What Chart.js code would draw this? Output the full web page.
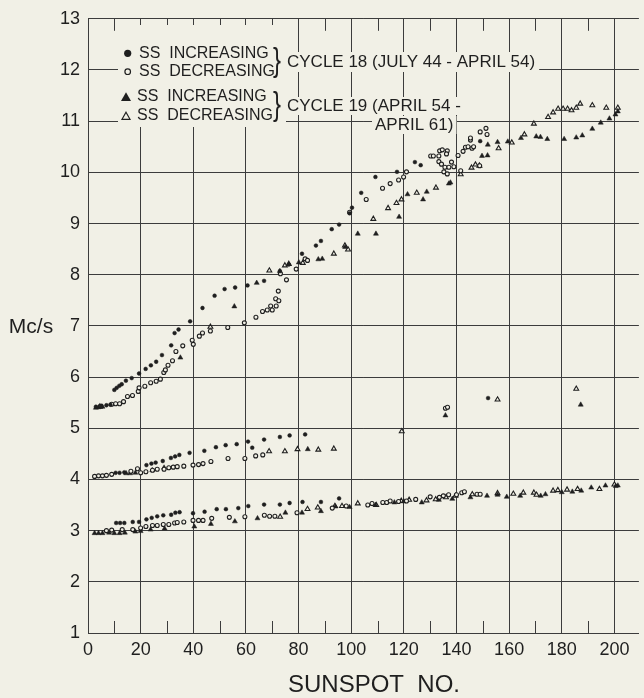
<!DOCTYPE html>
<html>
<head>
<meta charset="utf-8">
<script src="https://cdn.jsdelivr.net/npm/chart.js@4.4.1/dist/chart.umd.min.js"></script>
<style>
  html, body { margin: 0; padding: 0; background: #f1f0e6; }
  canvas { display: block; }
</style>
</head>
<body>
<canvas id="c" width="644" height="698"></canvas>
<script>
// ---------------- DATA ----------------
const xTickValues = [0, 20, 40, 60, 80, 100, 120, 140, 160, 180, 200];
const xMinorTicks = [10, 30, 50, 70, 90, 110, 130, 150, 170, 190];
const yTickValues = [1, 2, 3, 4, 5, 6, 7, 8, 9, 10, 11, 12, 13];

// Cycle 18 (July 44 - April 54), sunspot number increasing  (filled circles)
const cycle18Increasing = [
  [3,5.42],[5,5.44],[7,5.45],[8.5,5.46],
  [10,5.75],[10.9,5.79],[11.9,5.83],[12.8,5.86],[14.4,5.93],[16.6,5.98],[19.4,6.07],[21.9,6.16],
  [23.9,6.23],[25.9,6.3],[28.1,6.43],[31.6,6.62],[32.9,6.86],[34.4,6.93],[38.8,7.09],[43.5,7.35],
  [48.1,7.59],[51.9,7.72],[55.9,7.75],[60.6,7.79],[66.9,7.88],[72.9,8.07],[76.3,8.2],[81.3,8.41],
  [86.6,8.57],[88.5,8.66],[92.6,8.89],[95.4,8.98],[99.4,9.2],[100.3,9.31],[103.8,9.6],[109.2,9.91],
  [117.4,10.01],[124.2,10.2],[126.4,10.14],[149,10.61],
  [10.5,4.13],[12,4.13],[13.8,4.14],[22.2,4.28],[24.1,4.31],[25.7,4.33],[28.4,4.36],[31.5,4.42],
  [33.1,4.45],[34.7,4.48],[38.6,4.52],[44.2,4.56],[48.6,4.63],[52.3,4.67],[56.5,4.69],[60.8,4.74],
  [62.4,4.62],[66.9,4.78],[72.9,4.83],[76.6,4.86],[82.5,4.88],
  [10.7,3.15],[12.2,3.15],[13.8,3.15],[17,3.17],[19.4,3.17],[22.2,3.22],[24.2,3.25],[26.3,3.28],
  [28.6,3.3],[31.6,3.31],[33.2,3.35],[34.8,3.36],[39.9,3.34],[44.3,3.37],[48.9,3.42],[52.4,3.42],
  [57.1,3.44],[60.9,3.48],[66.9,3.51],[72.9,3.51],[76.6,3.54],[81.5,3.56],[88.5,3.56],[95.4,3.63],
  [152,5.59]
];

// Cycle 18, sunspot number decreasing  (open circles)
const cycle18Decreasing = [
  [9,5.47],[10.5,5.48],[12,5.48],[13.5,5.52],[15,5.62],[16.9,5.64],[19.1,5.72],[19.4,5.79],
  [21.6,5.82],[23.8,5.89],[25.9,5.92],[27.5,5.96],[28.8,6.09],[29.4,6.14],[30.4,6.23],[32.1,6.32],
  [33.4,6.5],[36,6.61],[39.6,6.72],[40,6.64],[42.3,6.8],[43.5,6.86],[46.5,6.9],[53.1,6.97],
  [59.4,7.06],[63.8,7.17],[66.3,7.28],[68.1,7.31],[69.4,7.39],[70,7.31],[71.5,7.39],[71.3,7.53],
  [72.5,7.49],[72.3,7.68],[73.1,8.02],[75.4,7.9],[79.1,8.11],[82.5,8.31],[83.4,8.28],[99.4,9.22],
  [105.7,9.47],[111.9,9.69],[114.8,9.78],[118,9.85],[119.9,9.91],[121,10.01],[130.2,10.32],
  [131.2,10.32],[133.3,10.32],[133.6,10.42],[134.6,10.44],[136.5,10.42],[136.2,10.36],[133.3,10.21],
  [134.3,10.16],[135.6,10.1],[137.1,10.1],[135.2,10.01],[136.5,9.97],[138.1,10.2],[139,10.11],
  [140.6,10.33],[141.6,10.03],[142.5,10.41],[143.4,10.49],[144.4,10.5],[145.3,10.63],[145.3,10.67],
  [145.9,10.47],[146.5,10.5],[149,10.79],[151.2,10.86],[151.6,10.74],[148.8,10.13],
  [2.5,4.06],[4,4.07],[5.5,4.07],[7,4.08],[9,4.1],[16.3,4.16],[18.8,4.21],[20,4.13],[22,4.15],
  [24.5,4.18],[26.3,4.2],[28.9,4.2],[30.7,4.23],[32.4,4.24],[33.9,4.25],[36.4,4.26],[39.9,4.28],
  [42,4.29],[43.7,4.31],[46.7,4.35],[53.2,4.41],[59.6,4.41],[63.7,4.46],[66.4,4.48],
  [7,3.0],[9,3.01],[13,3.02],[17,3.02],[20,3.05],[22,3.08],[24.5,3.1],[26.3,3.1],[28.6,3.12],
  [30.7,3.12],[32.9,3.15],[33.9,3.16],[36.4,3.17],[39.9,3.2],[42,3.2],[43.7,3.2],[47,3.24],
  [53.7,3.26],[59.6,3.27],[67,3.3],[69,3.28],[71,3.28],[79.4,3.35],[92.8,3.44],[98.1,3.48],
  [106.3,3.5],[107.9,3.53],[112,3.55],[113.5,3.55],[114.8,3.58],[118,3.57],[121,3.58],[124.5,3.61],
  [130,3.66],[133.5,3.65],[135,3.68],[137,3.7],[140,3.7],[142,3.74],[143,3.76],[147.8,3.71],[149,3.71],
  [135.8,5.39],[136.6,5.41]
];

// Cycle 19 (April 54 - April 61), sunspot number increasing  (filled triangles)
const cycle19Increasing = [
  [3,5.4],[4,5.41],[5.5,5.42],[35.1,6.38],[55.6,7.38],[64.1,7.84],[72.9,8.07],[80.1,8.24],
  [87.5,8.3],[89,8.31],[97.7,8.54],[102.5,8.8],[109.4,8.8],[118.2,9.13],[121.4,9.57],[127.3,9.47],
  [128.7,9.62],[137.1,9.78],[137.7,9.8],[149.7,10.32],[151.8,10.33],[151.9,10.54],[155.6,10.59],
  [159.5,10.6],[164.5,10.67],[170.3,10.7],[171.9,10.69],[174.5,10.65],[180.9,10.65],[185.5,10.68],
  [187.8,10.72],[191.6,10.85],[194.8,10.97],[198.1,11.05],[200.4,11.13],[201.3,11.19],
  [14.5,4.12],[16,4.12],[18,4.13],[24.4,4.18],[28.9,4.23],[83.5,4.59],
  [2.5,2.95],[4,2.95],[5.5,2.95],[8,2.96],[10,2.95],[12,2.95],[14,2.96],[18,2.98],[20,2.99],
  [23.8,3.02],[29.1,3.04],[40.4,3.08],[46.7,3.13],[55.8,3.18],[64.4,3.24],[75,3.35],[81.3,3.35],
  [88.5,3.38],[94,3.47],[99.4,3.46],[109.2,3.5],[116.4,3.55],[120,3.57],[126.8,3.55],[133.3,3.6],
  [138.4,3.62],[145.3,3.65],[151.6,3.68],[155.6,3.7],[159.1,3.66],[164.2,3.68],[172,3.68],
  [173.8,3.71],[180,3.75],[184,3.76],[187.4,3.78],[191.2,3.84],[196.6,3.88],[200.5,3.87],[201.3,3.88],
  [135.8,5.25],[187.2,5.46]
];

// Cycle 19, sunspot number decreasing  (open triangles)
const cycle19Decreasing = [
  [4.5,5.42],[46.5,6.98],[68.9,8.08],[74.8,8.18],[76.3,8.21],[81.6,8.23],[93.4,8.41],[97.6,8.57],
  [98.8,8.49],[108.4,9.09],[114,9.3],[117.2,9.4],[119.1,9.47],[124.9,9.6],[132.2,9.7],[141.6,9.96],
  [145.7,10.09],[147.2,10.15],[148.7,10.13],[156,10.47],[161,10.58],[165.8,10.74],[169.4,10.95],
  [174.8,11.08],[176.7,11.17],[178.6,11.24],[180.5,11.24],[182.2,11.24],[183.7,11.21],[185.5,11.26],
  [187,11.34],[191.6,11.31],[196.9,11.26],[201.3,11.26],
  [68.8,4.55],[74.8,4.55],[79.6,4.59],[87.5,4.58],[93.4,4.6],
  [73,3.27],[83.4,3.42],[87.3,3.45],[93.8,3.48],[96.5,3.48],[102.5,3.53],[109.5,3.5],[119,3.58],
  [122,3.6],[128.6,3.59],[132.1,3.61],[136,3.65],[139.6,3.68],[146,3.71],[155.6,3.73],[161.6,3.72],
  [165.4,3.74],[169.4,3.74],[170.4,3.7],[176.7,3.78],[178.5,3.79],[182,3.8],[186,3.81],[194.3,3.81],
  [200,3.9],
  [119.2,4.94],[155.6,5.56],[185.5,5.77]
];

// ---------------- STYLE ----------------
const BG = '#f1f0e6';
const INK = '#1f1f1f';
const LINE = '#3c3c3c';
const FONT = "'Liberation Sans', Arial, sans-serif";

const toPts = arr => arr.map(([x, y]) => ({ x, y }));

const bgPlugin = {
  id: 'bg',
  beforeDraw(chart) {
    const c = chart.ctx;
    c.save();
    c.fillStyle = BG;
    c.fillRect(0, 0, chart.width, chart.height);
    c.restore();
  }
};

function marker(c, type, x, y, s) {
  c.save();
  c.lineWidth = 1.2;
  c.strokeStyle = INK;
  c.fillStyle = INK;
  c.beginPath();
  if (type === 'dot' || type === 'ring') {
    c.arc(x, y, s, 0, Math.PI * 2);
  } else {
    const h = s * 1.75;
    c.moveTo(x, y - h * 0.6);
    c.lineTo(x + s, y + h * 0.4);
    c.lineTo(x - s, y + h * 0.4);
    c.closePath();
  }
  if (type === 'dot' || type === 'tri') {
    c.fill();
  } else {
    c.fillStyle = BG; c.fill(); c.stroke();
  }
  c.restore();
}

function brace(c, x, y) {
  c.save();
  c.font = '34px ' + FONT;
  c.textAlign = 'center';
  c.textBaseline = 'middle';
  c.fillStyle = INK;
  c.translate(x, y);
  c.scale(0.7, 1);
  c.fillText('}', 0, 0);
  c.restore();
}

const decorPlugin = {
  id: 'decor',
  afterDraw(chart) {
    const c = chart.ctx;
    const xs = chart.scales.x, ys = chart.scales.y;
    const top = chart.chartArea.top, bottom = chart.chartArea.bottom;
    c.save();
    // minor tick marks at the odd tens, top and bottom
    c.strokeStyle = LINE;
    c.lineWidth = 1;
    xMinorTicks.forEach(v => {
      const px = Math.round(xs.getPixelForValue(v)) + 0.5;
      c.beginPath();
      c.moveTo(px, bottom); c.lineTo(px, bottom - 12);
      c.moveTo(px, top); c.lineTo(px, top + 12);
      c.stroke();
    });

    // legend block background
    c.fillStyle = BG;
    c.fillRect(118, 25, 156, 102);
    c.font = '17px ' + FONT;
    const cyc1 = 'CYCLE 18 (JULY 44 - APRIL 54)';
    const cyc2a = 'CYCLE 19 (APRIL 54 -';
    const cyc2b = 'APRIL 61)';
    const w1 = c.measureText(cyc1).width;
    const w2a = c.measureText(cyc2a).width;
    const w2b = c.measureText(cyc2b).width;
    c.fillRect(270, 43, 16, 38);
    c.fillRect(270, 87, 16, 38);
    c.fillRect(285, 52, w1 + 6, 20);
    c.fillRect(285, 97, w2a + 6, 18);
    c.fillRect(372, 116, w2b + 6, 18);

    // legend markers + text
    marker(c, 'dot', 127.7, 53.3, 3.6);
    marker(c, 'ring', 127.7, 71.7, 2.8);
    marker(c, 'tri', 126, 97.5, 5);
    marker(c, 'otri', 126, 116.5, 4);
    c.fillStyle = INK;
    c.textBaseline = 'middle';
    c.textAlign = 'left';
    c.font = '16px ' + FONT;
    c.fillText('SS  INCREASING', 139, 53.5);
    c.fillText('SS  DECREASING', 139, 72);
    c.fillText('SS  INCREASING', 137, 96.5);
    c.fillText('SS  DECREASING', 137, 115.5);
    c.font = '17px ' + FONT;
    c.fillText(cyc1, 287, 62);
    c.fillText(cyc2a, 287, 106);
    c.fillText(cyc2b, 375, 125);
    brace(c, 277, 62);
    brace(c, 277, 106);

    // axis titles
    c.fillStyle = INK;
    c.textAlign = 'center';
    c.textBaseline = 'middle';
    c.font = '21px ' + FONT;
    c.fillText('Mc/s', 31, ys.getPixelForValue(7) + 1);
    c.font = '24px ' + FONT;
    c.fillText('SUNSPOT  NO.', 374, 685);
    c.restore();
  }
};

const common = { showLine: false };

new Chart(document.getElementById('c'), {
  type: 'scatter',
  data: {
    datasets: [
      { ...common, label: 'Cycle 18 SS increasing', data: toPts(cycle18Increasing),
        pointStyle: 'circle', pointRadius: 1.9, backgroundColor: INK, borderColor: INK, borderWidth: 0.5 },
      { ...common, label: 'Cycle 18 SS decreasing', data: toPts(cycle18Decreasing),
        pointStyle: 'circle', pointRadius: 2.0, backgroundColor: BG, borderColor: INK, borderWidth: 1.1 },
      { ...common, label: 'Cycle 19 SS increasing', data: toPts(cycle19Increasing),
        pointStyle: 'triangle', pointRadius: 2.9, backgroundColor: INK, borderColor: INK, borderWidth: 0.5 },
      { ...common, label: 'Cycle 19 SS decreasing', data: toPts(cycle19Decreasing),
        pointStyle: 'triangle', pointRadius: 2.8, backgroundColor: BG, borderColor: INK, borderWidth: 1.1 }
    ]
  },
  options: {
    responsive: false,
    animation: false,
    devicePixelRatio: 1,
    layout: { padding: { top: 13, left: 0, right: 0, bottom: 0 } },
    plugins: { legend: { display: false }, tooltip: { enabled: false }, title: { display: false } },
    scales: {
      x: {
        type: 'linear', min: 0, max: 209.3,
        afterBuildTicks: s => { s.ticks = xTickValues.map(v => ({ value: v })); },
        afterFit: s => { s.height = 65; },
        grid: { color: LINE, lineWidth: 1, drawTicks: false },
        border: { color: LINE, width: 1 },
        ticks: { color: INK, font: { family: FONT, size: 18 }, padding: 6, maxRotation: 0, autoSkip: false }
      },
      y: {
        type: 'linear', min: 1, max: 13,
        afterBuildTicks: s => { s.ticks = yTickValues.map(v => ({ value: v })); },
        afterFit: s => { s.width = 88; },
        grid: { color: LINE, lineWidth: 1, drawTicks: false },
        border: { color: LINE, width: 1 },
        ticks: { color: INK, font: { family: FONT, size: 18 }, padding: 8, autoSkip: false }
      }
    }
  },
  plugins: [bgPlugin, decorPlugin]
});
</script>
</body>
</html>
